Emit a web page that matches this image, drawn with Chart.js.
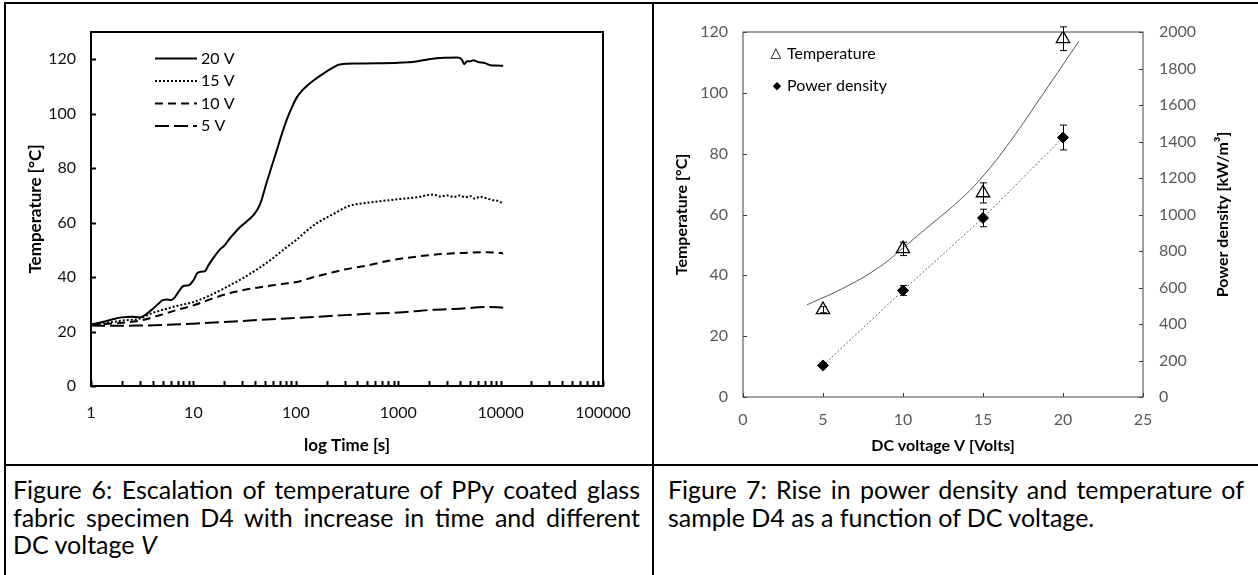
<!DOCTYPE html>
<html>
<head>
<meta charset="utf-8">
<title>Figure 6 / Figure 7</title>
<script src="https://cdn.jsdelivr.net/npm/chart.js@4.4.1/dist/chart.umd.min.js"></script>
<style>
  html, body { margin: 0; padding: 0; background: #fff; }
  body { position: relative; width: 1258px; height: 575px; overflow: hidden; font-family: Lato, 'Open Sans', sans-serif; }
  .rule { position: absolute; background: #000; }
  .box { position: absolute; }
  .caption { position: absolute; font-size: 25px; line-height: 27.5px; color: #000; }
  .caption div { text-align: justify; text-align-last: justify; }
  .caption div.last { text-align-last: left; }
</style>
</head>
<body>
  <div class="rule" style="left:4px; top:2px; width:1254px; height:2px;"></div>
  <div class="rule" style="left:4px; top:2px; width:2px; height:573px;"></div>
  <div class="rule" style="left:652px; top:2px; width:2px; height:573px;"></div>
  <div class="rule" style="left:4px; top:464px; width:1254px; height:2px;"></div>

  <canvas id="chartTime" class="box" width="640" height="456" style="left:8px; top:4px;"></canvas>
  <canvas id="chartVoltage" class="box" width="603" height="458" style="left:655px; top:4px;"></canvas>

  <div class="caption" style="left:13px; top:476px; width:627px;">
    <div>Figure 6: Escalation of temperature of PPy coated glass</div>
    <div>fabric specimen D4 with increase in time and different</div>
    <div class="last">DC voltage <i>V</i></div>
  </div>
  <div class="caption" style="left:668px; top:476px; width:576px;">
    <div>Figure 7: Rise in power density and temperature of</div>
    <div class="last">sample D4 as a function of DC voltage.</div>
  </div>

<script>
// --- Figure 6: temperature vs log time ---
const timeTicks = [1, 10, 100, 1000, 10000, 100000];
const tempTicks = [0, 20, 40, 60, 80, 100, 120];
const seriesLabels = ['20 V', '15 V', '10 V', '5 V'];

const t20 = [1, 1.3, 1.6, 2, 2.5, 3, 3.5, 4, 4.5, 5, 5.5, 6, 6.5, 7, 8, 9, 10, 11, 12, 13, 14, 16, 18, 20, 23, 25, 28, 31, 35, 40, 45, 52, 58, 65, 73, 82, 92, 102, 115, 128, 150, 172, 216, 270, 400, 600, 1000, 1500, 2000, 2800, 3800, 4200, 4400, 4700, 5000, 5400, 6000, 7000, 8000, 9000, 10600];
const T20 = [22.6, 23.5, 24.4, 25.2, 25.4, 25.2, 26.5, 28.3, 30, 31.5, 31.8, 31.5, 32.3, 34, 36.7, 37, 38.8, 41.6, 42, 42.2, 44.3, 47.5, 50, 51.5, 54.5, 56, 58, 59.5, 61.2, 63.5, 67, 74.8, 80.5, 86.4, 92.5, 98, 102.5, 105.9, 108.5, 110.2, 112.3, 113.9, 116.3, 118.1, 118.4, 118.5, 118.7, 119.2, 120, 120.5, 120.6, 119.8, 118.2, 119.3, 119.2, 119.6, 119, 118.6, 117.8, 117.7, 117.6];

const t15 = [1, 1.5, 2, 3, 4, 5.5, 7, 10, 14, 21, 30, 45, 60, 81, 100, 128, 160, 216, 337, 500, 716, 1000, 1515, 2190, 2600, 3000, 3500, 4000, 4500, 5000, 5600, 6300, 7300, 8500, 9300, 10600];
const T15 = [22.6, 23.3, 24, 24.8, 26.8, 28.4, 29.5, 30.8, 33, 36.3, 39.5, 43.6, 47, 50.9, 53.5, 57, 59.8, 62.5, 66.2, 67.3, 68, 68.6, 69.3, 70.3, 69.6, 70, 69.4, 70, 69.3, 69.8, 68.8, 69.5, 68.9, 68.2, 68, 67.1];

const t10 = [1, 2, 3, 5, 7, 10, 15, 25, 40, 60, 80, 110, 150, 216, 300, 493, 700, 1040, 1500, 2190, 3000, 4660, 7300, 9000, 10600];
const T10 = [22.6, 23.2, 24, 26.3, 28, 29.6, 32, 34.5, 36, 37, 37.6, 38.5, 40, 41.5, 42.8, 44.2, 45.5, 46.7, 47.5, 48.2, 48.6, 48.9, 49.1, 49, 48.7];

const t5 = [1, 2, 3, 5, 10, 20, 45, 100, 216, 493, 1000, 2190, 4000, 7300, 10600];
const T5 = [22.2, 22.1, 22.2, 22.4, 22.9, 23.5, 24.3, 25, 25.7, 26.5, 27, 28, 28.4, 29, 28.8];

// --- Figure 7: temperature and power density vs DC voltage ---
const voltageTicks = [0, 5, 10, 15, 20, 25];
const tempTicksR = [0, 20, 40, 60, 80, 100, 120];
const powerTicks = [0, 200, 400, 600, 800, 1000, 1200, 1400, 1600, 1800, 2000];

const voltage = [5, 10, 15, 20];
const temperature = [28.7, 48.7, 67.1, 117.8];
const temperatureErr = [1.0, 2.2, 3.3, 3.9];
const power = [173, 584, 981, 1422];
const powerErr = [10, 27, 48, 68];

// exponential trend line of the temperature
const trendVoltage = [4, 6.5, 8.6, 10, 10.9, 13.6, 15, 16.7, 18.8, 21];
const trendTemperature = [30.3, 36.4, 43, 49, 53, 65, 72.6, 84, 100, 117];

Chart.defaults.font.family = 'Lato, "Open Sans", sans-serif';
Chart.defaults.animation = false;

const pairs = (xs, ys) => xs.map((x, i) => ({ x: x, y: ys[i] }));
const plain = v => String(v);

// minor tick positions of the log axis: 1..9 in every decade
const logTickValues = [];
timeTicks.slice(0, -1).forEach(d => { for (let m = 1; m < 10; m++) logTickValues.push(d * m); });
logTickValues.push(timeTicks[timeTicks.length - 1]);

// box around the plot area and inward tick marks
const framePlugin = {
  id: 'frame',
  afterDatasetsDraw(chart, args, opts) {
    const { ctx, chartArea: a, scales } = chart;
    ctx.save();
    ctx.strokeStyle = opts.color;
    ctx.lineWidth = opts.width;
    ctx.strokeRect(a.left, a.top, a.right - a.left, a.bottom - a.top);
    (opts.marks || []).forEach(m => {
      const s = scales[m.axis];
      m.values.forEach(v => {
        const p = Math.round(s.getPixelForValue(v)) + 0.5;
        ctx.beginPath();
        if (s.isHorizontal()) { ctx.moveTo(p, a.bottom); ctx.lineTo(p, a.bottom - m.len); }
        else if (s.position === 'right') { ctx.moveTo(a.right, p); ctx.lineTo(a.right - m.len, p); }
        else { ctx.moveTo(a.left, p); ctx.lineTo(a.left + m.len, p); }
        ctx.stroke();
      });
    });
    ctx.restore();
  }
};

// legend with line samples, inside the plot
const lineLegend = {
  id: 'lineLegend',
  afterDraw(chart, args, opts) {
    if (!opts.x) return;
    const { ctx } = chart;
    ctx.save();
    chart.data.datasets.forEach((ds, i) => {
      const y = opts.y + i * opts.gap;
      ctx.strokeStyle = ds.borderColor;
      ctx.lineWidth = ds.borderWidth;
      ctx.setLineDash(ds.borderDash || []);
      ctx.beginPath();
      ctx.moveTo(opts.x, y);
      ctx.lineTo(opts.x + opts.len, y);
      ctx.stroke();
      ctx.setLineDash([]);
      ctx.fillStyle = '#000';
      ctx.font = opts.font;
      ctx.textBaseline = 'middle';
      ctx.fillText(ds.label, opts.x + opts.len + 4, y);
    });
    ctx.restore();
  }
};

// error bars from the dataset's errors array
const errorBars = {
  id: 'errorBars',
  afterDatasetsDraw(chart) {
    const { ctx } = chart;
    chart.data.datasets.forEach(ds => {
      if (!ds.errors) return;
      const xs = chart.scales.x, ys = chart.scales[ds.yAxisID];
      ctx.save();
      ctx.strokeStyle = '#000';
      ctx.lineWidth = 1;
      ds.data.forEach((pt, j) => {
        const e = ds.errors[j];
        const x = Math.round(xs.getPixelForValue(pt.x)) + 0.5;
        const y1 = ys.getPixelForValue(pt.y + e), y2 = ys.getPixelForValue(pt.y - e);
        ctx.beginPath();
        ctx.moveTo(x, y1); ctx.lineTo(x, y2);
        ctx.moveTo(x - 3.5, y1); ctx.lineTo(x + 3.5, y1);
        ctx.moveTo(x - 3.5, y2); ctx.lineTo(x + 3.5, y2);
        ctx.stroke();
      });
      ctx.restore();
    });
  }
};

// symbol legend and the right axis title (reads bottom to top)
const voltageExtras = {
  id: 'voltageExtras',
  afterDraw(chart, args, opts) {
    if (!opts.items) return;
    const { ctx, chartArea: a } = chart;
    ctx.save();
    ctx.fillStyle = '#000';
    ctx.textBaseline = 'middle';
    opts.items.forEach(it => {
      ctx.font = it.symbolFont;
      ctx.textAlign = 'center';
      ctx.fillText(it.symbol, it.sx, it.y);
      ctx.font = opts.font;
      ctx.textAlign = 'left';
      ctx.fillText(chart.data.datasets[it.dataset].label, it.tx, it.y);
    });
    ctx.translate(opts.titleX, (a.top + a.bottom) / 2);
    ctx.rotate(-Math.PI / 2);
    ctx.textAlign = 'center';
    ctx.font = opts.titleFont;
    ctx.fillText(opts.title, 0, 0);
    ctx.restore();
  }
};

const lineStyles = [
  { dash: [] },
  { dash: [2, 2] },
  { dash: [8, 5] },
  { dash: [14, 5] }
];
const timeSeries = [pairs(t20, T20), pairs(t15, T15), pairs(t10, T10), pairs(t5, T5)];

new Chart(document.getElementById('chartTime'), {
  type: 'line',
  data: {
    datasets: timeSeries.map((d, i) => ({
      label: seriesLabels[i],
      data: d,
      borderColor: '#000',
      borderWidth: 2,
      borderDash: lineStyles[i].dash,
      pointRadius: 0,
      fill: false,
      cubicInterpolationMode: 'monotone'
    }))
  },
  options: {
    responsive: false,
    devicePixelRatio: 1,
    layout: { padding: { top: 28, right: 45, left: 0, bottom: 0 } },
    plugins: {
      legend: { display: false },
      tooltip: { enabled: false },
      frame: {
        color: '#000', width: 2,
        marks: [{ axis: 'x', values: logTickValues, len: 5 }, { axis: 'y', values: tempTicks, len: 5 }]
      },
      lineLegend: { x: 147, y: 54.5, gap: 22.5, len: 42, font: '16px Lato, sans-serif' }
    },
    scales: {
      x: {
        type: 'logarithmic', min: 1, max: 100000,
        afterBuildTicks: s => { s.ticks = timeTicks.map(v => ({ value: v })); },
        afterFit: s => { s.height = 74; },
        ticks: { callback: plain, color: '#111', font: { size: 16 }, padding: 17, maxRotation: 0, autoSkip: false },
        grid: { display: false, drawTicks: false },
        border: { display: false },
        title: { display: true, text: 'log Time [s]', color: '#000', font: { size: 17, weight: 'bold' }, padding: { top: 0, bottom: 4 } }
      },
      y: {
        min: 0, max: 130,
        afterBuildTicks: s => { s.ticks = tempTicks.map(v => ({ value: v })); },
        afterFit: s => { s.width = 83; },
        ticks: { callback: plain, color: '#111', font: { size: 16 }, padding: 15 },
        grid: { display: false, drawTicks: false },
        border: { display: false },
        title: { display: true, text: 'Temperature [°C]', color: '#000', font: { size: 17, weight: 'bold' }, padding: { top: 17, bottom: 0 } }
      }
    }
  },
  plugins: [framePlugin, lineLegend]
});

new Chart(document.getElementById('chartVoltage'), {
  type: 'scatter',
  data: {
    datasets: [
      {
        label: 'Temperature',
        data: pairs(voltage, temperature),
        errors: temperatureErr,
        yAxisID: 'y',
        pointStyle: 'triangle',
        pointRadius: 7.7,
        pointBorderWidth: 1.3,
        pointBorderColor: '#000',
        pointBackgroundColor: 'rgba(255,255,255,0)',
        showLine: false,
        order: 0
      },
      {
        label: 'Power density',
        data: pairs(voltage, power),
        errors: powerErr,
        yAxisID: 'y2',
        pointStyle: 'rectRot',
        pointRadius: 5.5,
        pointBorderWidth: 1,
        pointBorderColor: '#000',
        pointBackgroundColor: '#000',
        showLine: true,
        borderColor: '#666',
        borderWidth: 1,
        borderDash: [2, 2],
        order: 0
      },
      {
        label: 'Temperature trend',
        data: pairs(trendVoltage, trendTemperature),
        yAxisID: 'y',
        pointRadius: 0,
        showLine: true,
        borderColor: '#555',
        borderWidth: 1,
        tension: 0.4,
        order: 1
      }
    ]
  },
  options: {
    responsive: false,
    devicePixelRatio: 1,
    layout: { padding: { top: 28, right: 0, left: 0, bottom: 0 } },
    plugins: {
      legend: { display: false },
      tooltip: { enabled: false },
      frame: {
        color: '#404040', width: 1,
        marks: [
          { axis: 'x', values: voltageTicks, len: 4 },
          { axis: 'y', values: tempTicksR, len: 4 },
          { axis: 'y2', values: powerTicks, len: 4 }
        ]
      },
      voltageExtras: {
        font: '16px Lato, sans-serif',
        items: [
          { dataset: 0, symbol: '\u25B3', symbolFont: '14px "DejaVu Sans", sans-serif', sx: 121, tx: 132, y: 49.5 },
          { dataset: 1, symbol: '\u25C6', symbolFont: '11px "DejaVu Sans", sans-serif', sx: 122, tx: 132, y: 82 }
        ],
        title: 'Power density [kW/m\u00B3]',
        titleFont: 'bold 16px Lato, sans-serif',
        titleX: 568
      }
    },
    scales: {
      x: {
        type: 'linear', min: 0, max: 25,
        afterBuildTicks: s => { s.ticks = voltageTicks.map(v => ({ value: v })); },
        afterFit: s => { s.height = 65; },
        ticks: { callback: plain, color: '#595959', font: { size: 16 }, padding: 13, maxRotation: 0, autoSkip: false },
        grid: { display: false, drawTicks: false },
        border: { display: false },
        title: { display: true, text: 'DC voltage V [Volts]', color: '#000', font: { size: 16, weight: 'bold' }, padding: { top: 0, bottom: 7 } }
      },
      y: {
        position: 'left', min: 0, max: 120,
        afterBuildTicks: s => { s.ticks = tempTicksR.map(v => ({ value: v })); },
        afterFit: s => { s.width = 88; },
        ticks: { callback: plain, color: '#595959', font: { size: 16 }, padding: 15 },
        grid: { display: false, drawTicks: false },
        border: { display: false },
        title: { display: true, text: 'Temperature [°C]', color: '#000', font: { size: 16, weight: 'bold' }, padding: { top: 17, bottom: 0 } }
      },
      y2: {
        position: 'right', min: 0, max: 2000,
        afterBuildTicks: s => { s.ticks = powerTicks.map(v => ({ value: v })); },
        afterFit: s => { s.width = 115; },
        ticks: { callback: plain, color: '#595959', font: { size: 16 }, padding: 16 },
        grid: { display: false, drawTicks: false },
        border: { display: false }
      }
    }
  },
  plugins: [framePlugin, errorBars, voltageExtras]
});
</script>
</body>
</html>
